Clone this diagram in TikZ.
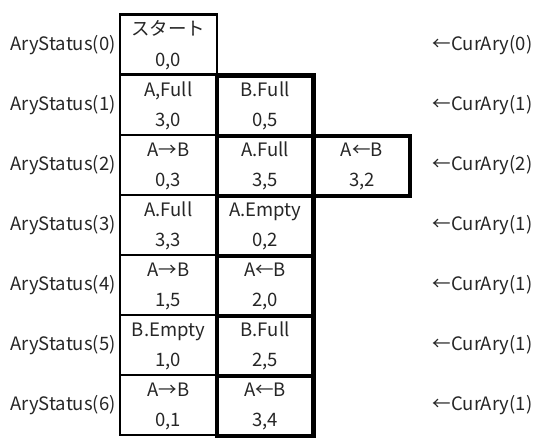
\documentclass[tikz,border=0pt]{standalone}
\usepackage{fontspec}
\setmainfont{Noto Sans CJK JP}
\newcommand\mkcell[6]{%
  \node[#4, anchor=north] (#1) at (#2,#3) {};
  \node[txt] (#1a) at ([yshift=-22.5pt]#1.north) {#5};
  \node[txt] (#1b) at ([yshift=-53pt]#1.north) {#6};
}
\begin{document}
\begin{tikzpicture}[x=1pt,y=-1pt,
  font=\fontsize{18.5}{22}\selectfont,
  cellbase/.style={rectangle, inner sep=0pt, minimum width=96.75pt, minimum height=60pt},
  thincell/.style={cellbase, draw=black, line width=2.2pt},
  thickcell/.style={cellbase, draw=black, line width=4.2pt},
  txt/.style={anchor=base, inner sep=0pt, text=black!85},
  lbl/.style={anchor=base west, inner sep=0pt, text=black!85}]
\useasboundingbox (0,0) rectangle (541,444);
% column 1 (thin)
\mkcell{a0}{168.375}{13.5}{thincell}{スタート}{0,0}
\mkcell{a1}{168.375}{73.5}{thincell}{A,Full}{3,0}
\mkcell{a2}{168.375}{133.5}{thincell}{A→B}{0,3}
\mkcell{a3}{168.375}{193.5}{thincell}{A.Full}{3,3}
\mkcell{a4}{168.375}{253.5}{thincell}{A→B}{1,5}
\mkcell{a5}{168.375}{313.5}{thincell}{B.Empty}{1,0}
\mkcell{a6}{168.375}{373.5}{thincell}{A→B}{0,1}
% column 2 (thick)
\mkcell{b1}{265.125}{73.5}{thickcell}{B.Full}{0,5}
\mkcell{b2}{265.125}{133.5}{thickcell}{A.Full}{3,5}
\mkcell{b3}{265.125}{193.5}{thickcell}{A.Empty}{0,2}
\mkcell{b4}{265.125}{253.5}{thickcell}{A←B}{2,0}
\mkcell{b5}{265.125}{313.5}{thickcell}{B.Full}{2,5}
\mkcell{b6}{265.125}{373.5}{thickcell}{A←B}{3,4}
% column 3
\mkcell{c2}{361.875}{133.5}{thickcell}{A←B}{3,2}
% row labels
\node[lbl] (s0) at (10,50.5) {AryStatus(0)};
\node[lbl] (s1) at (10,110.5) {AryStatus(1)};
\node[lbl] (s2) at (10,170.5) {AryStatus(2)};
\node[lbl] (s3) at (10,230.5) {AryStatus(3)};
\node[lbl] (s4) at (10,290.5) {AryStatus(4)};
\node[lbl] (s5) at (10,350.5) {AryStatus(5)};
\node[lbl] (s6) at (10,410.5) {AryStatus(6)};
\node[lbl] (p0) at (432.5,50.5) {←CurAry(0)};
\node[lbl] (p1) at (432.5,110.5) {←CurAry(1)};
\node[lbl] (p2) at (432.5,170.5) {←CurAry(2)};
\node[lbl] (p3) at (432.5,230.5) {←CurAry(1)};
\node[lbl] (p4) at (432.5,290.5) {←CurAry(1)};
\node[lbl] (p5) at (432.5,350.5) {←CurAry(1)};
\node[lbl] (p6) at (432.5,410.5) {←CurAry(1)};
\end{tikzpicture}
\end{document}
